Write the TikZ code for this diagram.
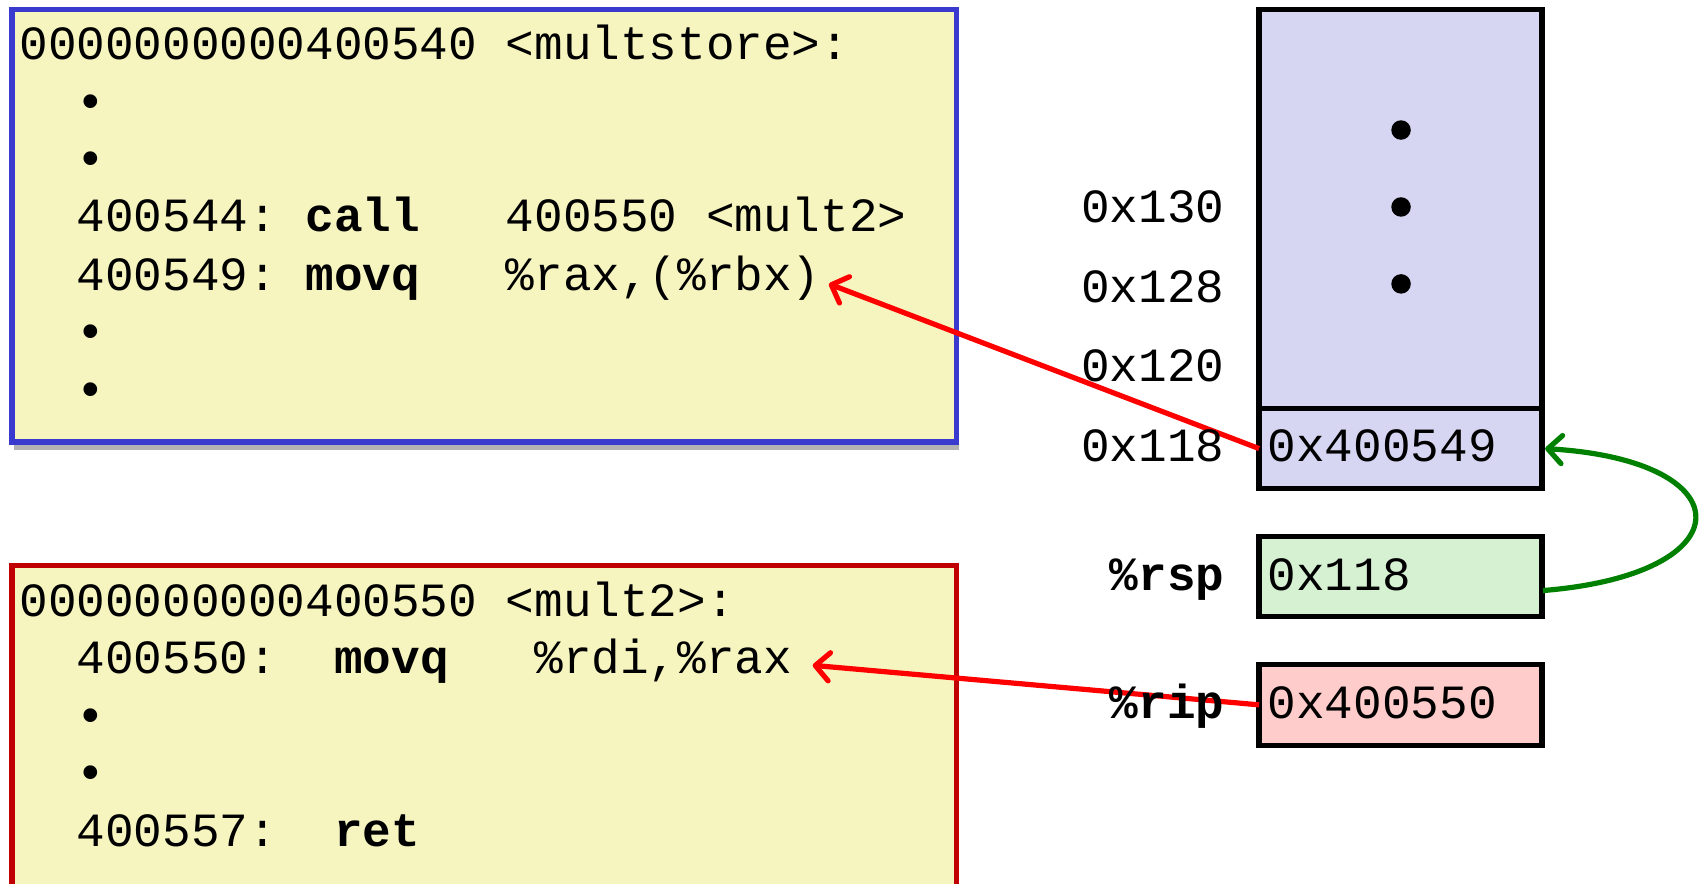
\documentclass[tikz,border=0pt]{standalone}
\usepackage{fontspec}
\setmonofont{Liberation Mono}
\usetikzlibrary{arrows.meta,shadows,calc}
\definecolor{codebg}{RGB}{246,245,192}
\definecolor{bluebord}{RGB}{58,58,206}
\definecolor{redbord}{RGB}{192,0,0}
\definecolor{stackbg}{RGB}{214,214,242}
\definecolor{rspbg}{RGB}{214,240,210}
\definecolor{ripbg}{RGB}{255,204,204}
\definecolor{arrowred}{RGB}{255,0,0}
\definecolor{arrowgreen}{RGB}{0,128,0}
\begin{document}
\begin{tikzpicture}[x=1pt,y=-1pt,
  mono/.style={font=\ttfamily\fontsize{44}{53}\selectfont, inner sep=0pt, outer sep=0pt},
  codeline/.style={mono, anchor=base west},
  addr/.style={mono, anchor=base east},
  cell/.style={draw=black, line width=4.8pt, outer sep=0pt, inner sep=0pt, anchor=north west, minimum width=261pt},
  codebox/.style={line width=4.8pt, fill=codebg, outer sep=0pt, inner sep=0pt, anchor=north west, minimum width=872pt},
  dot/.style={circle, fill=black, inner sep=0pt, minimum size=18pt},
  redarrow/.style={draw=arrowred, line width=4.8pt, -{Straight Barb[length=13pt,width=26pt,round]}},
  greenarrow/.style={draw=arrowgreen, line width=4.8pt, -{Straight Barb[length=13pt,width=26pt,round]}},
]
\useasboundingbox (0,0) rectangle (1568,815);
\clip (0,0) rectangle (1568,815);

% code boxes
\node[codebox, draw=bluebord, minimum height=399pt,
      drop shadow={shadow xshift=2pt, shadow yshift=-7pt, opacity=0.3, fill=black}] (topbox) at (11,9) {};
\node[codebox, draw=redbord, minimum height=340pt,
      drop shadow={shadow xshift=-2pt, shadow yshift=-4pt, opacity=0.2, fill=black}] (botbox) at (11,522) {};

% top code
\node[codeline] (t1) at (18,55)  {0000000000400540 <multstore>:};
\node[codeline] (t2) at (18,108) {~~{\bfseries •}};
\node[codeline] (t3) at (18,161) {~~{\bfseries •}};
\node[codeline] (t4) at (18,214) {~~400544:~{\bfseries call}~~~400550~<mult2>};
\node[codeline] (t5) at (18,268) {~~400549:~{\bfseries movq}~~~\%rax,(\%rbx)};
\node[codeline] (t6) at (18,321) {~~{\bfseries •}};
\node[codeline] (t7) at (18,374) {~~{\bfseries •}};

% bottom code
\node[codeline] (b1) at (18,569) {0000000000400550 <mult2>:};
\node[codeline] (b2) at (18,622) {~~400550:~~{\bfseries movq}~~~\%rdi,\%rax};
\node[codeline] (b3) at (18,675) {~~{\bfseries •}};
\node[codeline] (b4) at (18,728) {~~{\bfseries •}};
\node[codeline] (b5) at (18,781) {~~400557:~~{\bfseries ret}};

% stack
\node[cell, fill=stackbg, minimum height=368pt] (stackmid) at (1162,9) {};
\node[cell, fill=stackbg, minimum height=74pt] (stacktop) at (1162,377) {};
\node[dot] (d1) at (1293,120) {};
\node[dot] (d2) at (1293,191) {};
\node[dot] (d3) at (1293,262) {};
\node[codeline] (v1) at (1170,426) {0x400549};

% registers
\node[cell, fill=rspbg, minimum height=74pt] (rsp) at (1162,495) {};
\node[cell, fill=ripbg, minimum height=75pt] (rip) at (1162,613) {};
\node[codeline] (rspv) at (1170,545) {0x118};
\node[codeline] (ripv) at (1170,663) {0x400550};

% connectors
\coordinate (tipA) at (765,262);
\coordinate (tipB) at (750,614);
\draw[redarrow] (stacktop.west) -- (tipA);
\draw[redarrow] (rip.west) -- (tipB);
\draw[greenarrow] ($(rsp.east)+(1,13)$) .. controls (1611,530) and (1611,425) .. ($(stacktop.east)+(3,0)$);

% address labels
\node[addr] (a130) at (1130,205) {0x130};
\node[addr] (a128) at (1130,279) {0x128};
\node[addr] (a120) at (1130,352) {0x120};
\node[addr] (a118) at (1130,426) {0x118};
\node[addr] (rsplab) at (1130,545) {\bfseries\%rsp};
\node[addr] (riplab) at (1130,663) {\bfseries\%rip};
\end{tikzpicture}
\end{document}
